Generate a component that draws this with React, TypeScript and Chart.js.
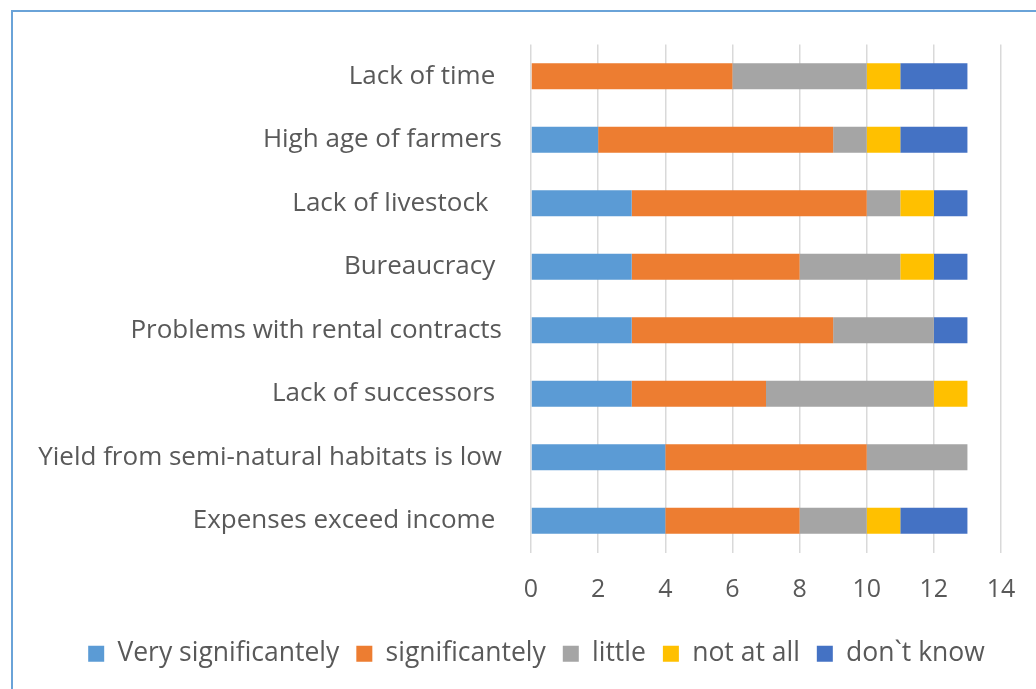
import React, { useEffect, useRef } from "react";
import { Chart, registerables } from "chart.js";

Chart.register(...registerables);

const categories = [
  "Lack of time ",
  "High age of farmers",
  "Lack of livestock  ",
  "Bureaucracy ",
  "Problems with rental contracts",
  "Lack of successors ",
  "Yield from semi-natural habitats is low",
  "Expenses exceed income ",
];

const veryS = [0, 2, 3, 3, 3, 3, 4, 4];
const signif = [6, 7, 7, 5, 6, 4, 6, 4];
const little = [4, 1, 1, 3, 3, 5, 3, 2];
const notAtAll = [1, 1, 1, 1, 0, 1, 0, 1];
const dontKnow = [2, 2, 1, 1, 1, 0, 0, 2];

const xTicks = [0, 2, 4, 6, 8, 10, 12, 14];

const seriesNames = ["Very significantely", "significantely", "little", "not at all", "don`t know"];
const seriesColors = ["#5B9BD5", "#ED7D31", "#A5A5A5", "#FFC000", "#4472C4"];

const FONT = "'Open Sans', sans-serif";
const TXT = "#595959";

export default function App() {
  const ref = useRef<HTMLCanvasElement | null>(null);

  useEffect(() => {
    if (!ref.current) return;
    const data = [veryS, signif, little, notAtAll, dontKnow];
    const chart = new Chart(ref.current, {
      type: "bar",
      data: {
        labels: categories,
        datasets: data.map((d, i) => ({
          label: seriesNames[i],
          data: d,
          backgroundColor: seriesColors[i],
          borderWidth: 0,
          categoryPercentage: 1,
          barPercentage: 0.41,
        })),
      },
      options: {
        indexAxis: "y",
        animation: false,
        responsive: false,
        maintainAspectRatio: false,
        layout: { padding: { top: 43, right: 35, bottom: 12, left: 0 } },
        plugins: {
          tooltip: { enabled: false },
          legend: {
            position: "bottom",
            labels: {
              font: { family: FONT, size: 26.5 },
              color: TXT,
              boxWidth: 16,
              boxHeight: 16,
              padding: 17,
            },
          },
        },
        scales: {
          x: {
            stacked: true,
            min: 0,
            max: 14,
            afterBuildTicks: (axis: any) => {
              axis.ticks = xTicks.map((v) => ({ value: v }));
            },
            afterFit: (axis: any) => {
              axis.height = 71;
              axis.paddingLeft = 0;
              axis.paddingRight = 0;
            },
            grid: { color: "#D9D9D9", lineWidth: 1.5, drawTicks: false },
            border: { display: false },
            ticks: {
              font: { family: FONT, size: 25 },
              color: TXT,
              padding: 22,
            },
          },
          y: {
            stacked: true,
            afterFit: (axis: any) => {
              axis.width = 531;
            },
            grid: { display: false, drawTicks: false },
            border: { display: false },
            ticks: {
              font: { family: FONT, size: 26 },
              color: TXT,
              padding: 29,
            },
          },
        },
      },
      plugins: [
        {
          id: "shiftLegend",
          afterLayout: (c: any) => {
            if (c.legend) {
              c.legend.left += 36;
              c.legend.right += 36;
            }
          },
        },
      ],
    });
    return () => chart.destroy();
  }, []);

  return (
    <div style={{ position: "absolute", left: 0, top: 0, width: 1036, height: 689, background: "#fff" }}>
      <div
        style={{
          position: "absolute",
          left: 11,
          top: 10,
          right: 0,
          bottom: 0,
          borderTop: "2px solid #6AA3D8",
          borderLeft: "2px solid #6AA3D8",
        }}
      />
      <canvas ref={ref} width={1036} height={689} style={{ position: "absolute", left: 0, top: 0 }} />
    </div>
  );
}
